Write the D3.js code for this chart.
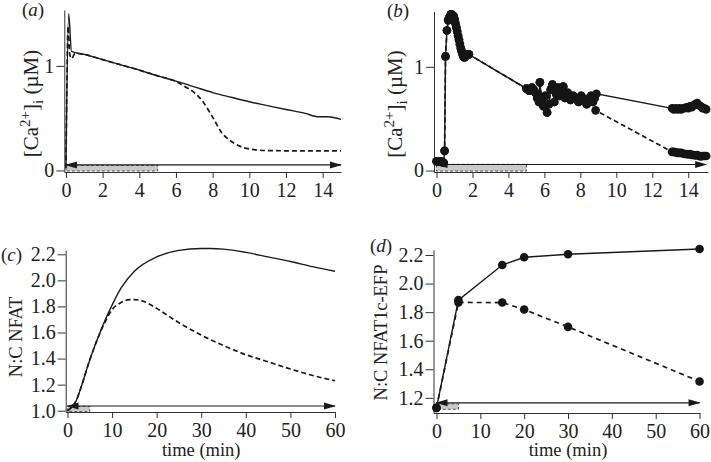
<!DOCTYPE html>
<html><head><meta charset="utf-8">
<script src="https://cdn.jsdelivr.net/npm/d3@7"></script>
<style>
body{margin:0;background:#fff}
svg{display:block;font-family:"Liberation Serif","Times New Roman",serif}
</style></head><body>
<svg id="chart" width="711" height="462"></svg>
<script>
// ---------- DATA ----------
const caTicksX = [0, 2, 4, 6, 8, 10, 12, 14];
const caTicksY = [0, 1];
const nfatTicksX = [0, 10, 20, 30, 40, 50, 60];
const nfatTicksYc = [1.0, 1.2, 1.4, 1.6, 1.8, 2.0, 2.2];
const nfatTicksYd = [1.2, 1.4, 1.6, 1.8, 2.0, 2.2];

// stimulus (grey box 0-5 min, arrow to end of record)
const stimStart = 0, stimEnd = 5;

// (a) model Ca2+ (µM)
const aSolidT = [0, 0.15, 0.3, 1, 2, 3, 4, 5, 6, 7, 8, 9, 10, 11, 12, 13, 13.8, 14.3, 15];
const aSolidV = [0.05, 1.5, 1.14, 1.11, 1.06, 1.01, 0.96, 0.905, 0.855, 0.8, 0.745, 0.7, 0.657, 0.62, 0.583, 0.548, 0.513, 0.513, 0.488];
const aDashT = [0, 0.12, 0.2, 0.3, 0.5, 1, 2, 3, 4, 5, 6, 6.5, 7, 7.5, 8, 8.5, 9, 9.5, 10, 11, 12, 13, 14, 15];
const aDashV = [0.02, 1.38, 1.12, 1.07, 1.12, 1.11, 1.06, 1.01, 0.96, 0.905, 0.85, 0.8, 0.745, 0.65, 0.51, 0.36, 0.28, 0.23, 0.205, 0.19, 0.188, 0.188, 0.188, 0.188];

// (b) measured Ca2+ (µM) — shared part, then two tails
const bCommonT = [0, 0.08, 0.16, 0.24, 0.32, 0.4, 0.45, 0.5, 0.58, 0.65, 0.72, 0.8, 0.88, 0.95, 1.0, 1.05, 1.1, 1.15, 1.2, 1.25, 1.3, 1.35, 1.4, 1.45, 1.5, 1.55, 1.6, 1.65, 1.7, 1.75, 1.8,
  5.0, 5.15, 5.3, 5.4, 5.5, 5.6, 5.7, 5.75, 5.85, 5.95, 6.05, 6.15, 6.25, 6.35, 6.45, 6.55, 6.65, 6.75, 6.85, 6.95, 7.05, 7.15, 7.3, 7.45, 7.6, 7.75, 7.9, 8.05, 8.2, 8.35, 8.5, 8.6, 8.7, 8.8];
const bCommonV = [0.09, 0.09, 0.085, 0.09, 0.08, 0.075, 0.19, 1.1, 1.35, 1.45, 1.48, 1.505, 1.5, 1.49, 1.46, 1.42, 1.38, 1.34, 1.3, 1.26, 1.22, 1.18, 1.15, 1.12, 1.1, 1.09, 1.1, 1.11, 1.12, 1.12, 1.12,
  0.79, 0.77, 0.8, 0.78, 0.75, 0.7, 0.66, 0.85, 0.68, 0.62, 0.72, 0.56, 0.64, 0.78, 0.83, 0.66, 0.74, 0.8, 0.72, 0.78, 0.81, 0.7, 0.75, 0.68, 0.72, 0.7, 0.66, 0.72, 0.69, 0.64, 0.7, 0.72, 0.66, 0.7];
const bSustainT = [8.9, 13.1, 13.2, 13.3, 13.4, 13.5, 13.6, 13.7, 13.8, 13.9, 14.0, 14.1, 14.2, 14.3, 14.4, 14.5, 14.6, 14.7, 14.8, 14.9, 15.0];
const bSustainV = [0.74, 0.6, 0.59, 0.6, 0.59, 0.6, 0.59, 0.6, 0.6, 0.61, 0.6, 0.62, 0.61, 0.63, 0.64, 0.65, 0.63, 0.62, 0.6, 0.6, 0.59];
const bRemoveT = [8.85, 13.1, 13.2, 13.3, 13.4, 13.5, 13.6, 13.7, 13.8, 13.9, 14.0, 14.1, 14.2, 14.3, 14.4, 14.5, 14.6, 14.7, 14.8, 14.9, 15.0];
const bRemoveV = [0.58, 0.18, 0.18, 0.175, 0.17, 0.17, 0.17, 0.165, 0.16, 0.16, 0.155, 0.16, 0.15, 0.15, 0.145, 0.15, 0.14, 0.135, 0.14, 0.14, 0.14];

// (c) model N:C NFAT
const cSolidT = [0, 1, 2, 3, 5, 8, 10, 12, 15, 20, 25, 30, 32, 35, 40, 45, 50, 55, 60];
const cSolidV = [1.0, 1.03, 1.08, 1.175, 1.39, 1.66, 1.81, 1.94, 2.07, 2.18, 2.23, 2.245, 2.245, 2.24, 2.215, 2.18, 2.145, 2.105, 2.07];
const cDashT = [0, 1, 2, 3, 5, 8, 10, 12, 14, 15, 17, 20, 25, 30, 35, 40, 45, 50, 55, 60];
const cDashV = [1.0, 1.03, 1.08, 1.175, 1.39, 1.65, 1.775, 1.83, 1.852, 1.852, 1.84, 1.785, 1.675, 1.58, 1.5, 1.43, 1.375, 1.32, 1.27, 1.23];

// (d) measured N:C NFAT1c-EFP
const dTime = [0, 5, 15, 20, 30, 60];
const dSustain = [1.13, 1.884, 2.13, 2.184, 2.205, 2.242];
const dRemove = [1.13, 1.868, 1.867, 1.818, 1.697, 1.315];

const zip = (t, v) => t.map((d, i) => [d, v[i]]);

// ---------- LAYOUT ----------
const svg = d3.select("#chart");
const ink = "#1a1a1a";
const serif = '"Liberation Serif","Times New Roman",serif';

const panels = [
  { label: "a", xDom: [-0.09, 15], xRange: [64.3, 341], yDom: [-0.015, 1.535], yRange: [172, 10],
    xTicks: caTicksX, yTicks: caTicksY, yFmt: d3.format("d"), xEnd: 15,
    arrowY: 0.053, boxTop: 0.048, boxBot: -0.005,
    labelPos: [22, 16], titlePos: [37.5, 103.5], title: "ca",
    lines: [{ d: zip(aSolidT, aSolidV), dash: null, curve: d3.curveMonotoneX },
            { d: zip(aDashT, aDashV), dash: "5,3", curve: d3.curveMonotoneX }], dots: false },
  { label: "b", xDom: [-0.14, 15.1], xRange: [434, 708], yDom: [-0.014, 1.533], yRange: [172, 11.5],
    xTicks: caTicksX, yTicks: caTicksY, yFmt: d3.format("d"), xEnd: 15,
    arrowY: 0.058, boxTop: 0.06, boxBot: -0.005,
    labelPos: [387, 17], titlePos: [402, 104], title: "ca",
    lines: [{ d: zip(bCommonT, bCommonV).concat(zip(bSustainT, bSustainV)), dash: null, curve: d3.curveLinear },
            { d: zip(bCommonT, bCommonV).concat(zip(bRemoveT, bRemoveV)), dash: "5,3", curve: d3.curveLinear }], dots: true },
  { label: "c", xDom: [-0.4, 60], xRange: [65.7, 335], yDom: [0.99, 2.233], yRange: [412, 250],
    xTicks: nfatTicksX, yTicks: nfatTicksYc, yFmt: d3.format(".1f"), xEnd: 60,
    arrowY: 1.036, boxTop: 1.033, boxBot: 0.993,
    labelPos: [1, 261], titlePos: [21.5, 337], title: "N:C NFAT", xTitle: true,
    lines: [{ d: zip(cSolidT, cSolidV), dash: null, curve: d3.curveMonotoneX },
            { d: zip(cDashT, cDashV), dash: "5,3", curve: d3.curveMonotoneX }], dots: false },
  { label: "d", xDom: [-0.68, 60.1], xRange: [433.5, 700], yDom: [1.094, 2.235], yRange: [413, 250],
    xTicks: nfatTicksX, yTicks: nfatTicksYd, yFmt: d3.format(".1f"), xEnd: 60,
    arrowY: 1.165, boxTop: 1.158, boxBot: 1.12,
    labelPos: [370, 252], titlePos: [387, 332.5], title: "N:C NFAT1c-EFP", xTitle: true,
    lines: [{ d: zip(dTime, dSustain), dash: null, curve: d3.curveLinear },
            { d: zip(dTime, dRemove), dash: "5,4", curve: d3.curveLinear }], dots: true }
];

panels.forEach(p => {
  const x = d3.scaleLinear().domain(p.xDom).range(p.xRange);
  const y = d3.scaleLinear().domain(p.yDom).range(p.yRange);
  const g = svg.append("g");

  // axes
  const xa = g.append("g").attr("transform", `translate(0,${p.yRange[0]})`)
    .call(d3.axisBottom(x).tickValues(p.xTicks).tickSize(6).tickSizeOuter(0).tickPadding(5).tickFormat(d3.format("d")));
  const ya = g.append("g").attr("transform", `translate(${p.xRange[0]},0)`)
    .call(d3.axisLeft(y).tickValues(p.yTicks).tickSize(8).tickSizeOuter(0).tickPadding(2).tickFormat(p.yFmt));
  [xa, ya].forEach(a => {
    a.attr("font-size", 20).attr("font-family", serif);
    a.selectAll("path,line").attr("stroke", "#333").attr("stroke-width", 1);
    a.selectAll("text").attr("fill", "#222");
  });

  // stimulus box + arrow
  g.append("rect")
    .attr("x", x(stimStart)).attr("width", x(stimEnd) - x(stimStart))
    .attr("y", y(p.boxTop)).attr("height", y(p.boxBot) - y(p.boxTop))
    .attr("fill", "#c9c9c9").attr("stroke", "#555").attr("stroke-width", 1).attr("stroke-dasharray", "3,2");
  const ay = y(p.arrowY);
  g.append("line").attr("x1", x(stimStart)).attr("x2", x(p.xEnd)).attr("y1", ay).attr("y2", ay)
    .attr("stroke", ink).attr("stroke-width", 1.1);
  const xr = x(p.xEnd) + 1;
  g.append("path").attr("d", `M${xr},${ay}L${xr - 12},${ay - 3.5}L${xr - 12},${ay + 3.5}Z`).attr("fill", ink);
  const xl = x(stimStart) - 1;
  g.append("path").attr("d", `M${xl},${ay}L${xl + 12},${ay - 3.5}L${xl + 12},${ay + 3.5}Z`).attr("fill", ink);

  // lines
  p.lines.forEach(l => {
    g.append("path").datum(l.d)
      .attr("d", d3.line().x(d => x(d[0])).y(d => y(d[1])).curve(l.curve))
      .attr("fill", "none").attr("stroke", ink)
      .attr("stroke-width", l.dash ? 1.7 : 1.4)
      .attr("stroke-dasharray", l.dash);
  });
  if (p.dots) {
    p.lines.forEach(l => {
      g.selectAll(null).data(l.d).enter().append("circle")
        .attr("cx", d => x(d[0])).attr("cy", d => y(d[1])).attr("r", 4.3).attr("fill", "#151515");
    });
  }

  // panel label
  const lt = g.append("text").attr("x", p.labelPos[0]).attr("y", p.labelPos[1])
    .attr("font-size", 19).attr("fill", "#222");
  lt.append("tspan").text("(");
  lt.append("tspan").attr("font-style", "italic").text(p.label);
  lt.append("tspan").text(")");

  // y title
  const tt = g.append("text")
    .attr("transform", `translate(${p.titlePos[0]},${p.titlePos[1]}) rotate(-90)`)
    .attr("text-anchor", "middle").attr("fill", "#222");
  if (p.title === "ca") {
    tt.attr("font-size", 21);
    tt.append("tspan").text("[Ca");
    tt.append("tspan").attr("font-size", 15).attr("dy", -8).text("2+");
    tt.append("tspan").attr("dy", 8).text("]");
    tt.append("tspan").attr("font-size", 15).attr("dy", 5).text("i");
    tt.append("tspan").attr("dy", -5).text(" (\u00b5M)");
  } else {
    tt.attr("font-size", 18.5).text(p.title);
  }

  if (p.xTitle) {
    g.append("text").attr("x", (x(0) + x(60)) / 2).attr("y", 456)
      .attr("text-anchor", "middle").attr("font-size", 18.5).attr("fill", "#222").text("time (min)");
  }
});
</script>
</body></html>
